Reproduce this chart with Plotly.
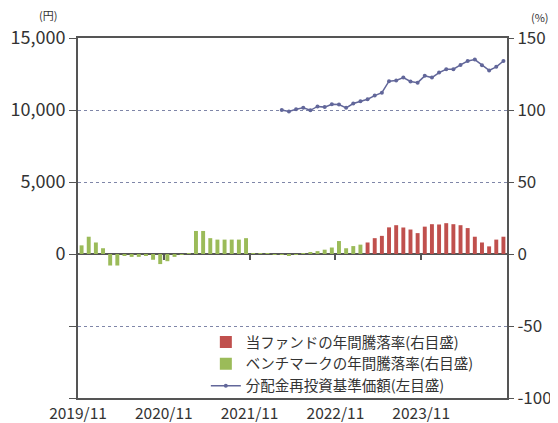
import plotly.graph_objects as go
import pandas as pd

# Monthly categories 2019/11 - 2024/10
months = [d.strftime("%Y/%m") for d in pd.date_range("2019-11-01", periods=60, freq="MS")]
tick_labels = ["2019/11", "2020/11", "2021/11", "2022/11", "2023/11"]

# Benchmark annual return (%), right axis (2019/11 - 2023/02)
benchmark_vals = [6, 12, 8, 4, -8, -8, -1, -2, -2, -1, -4, -7, -5, -2, -0.5, 0.5,
                  16, 16, 11, 10, 10, 10, 10, 11, 0.5, 0.3, 0.2, -0.5, -0.3, -1,
                  -0.5, 0.5, 0.8, 2, 3, 4.5, 9, 4, 5.5, 6.5]
benchmark = benchmark_vals + [None] * (60 - len(benchmark_vals))

# Fund annual return (%), right axis (2023/03 - 2024/10)
fund_vals = [8, 11, 12.6, 18.5, 20, 18.4, 17, 14.5, 19, 20.7, 20.5, 21.4, 20.7,
             20, 18, 12, 8, 5.3, 10, 12]
fund = [None] * (60 - len(fund_vals)) + fund_vals

# NAV with dividends reinvested (yen), left axis (2022/03 - 2024/10)
nav_vals = [10000, 9900, 10050, 10150, 9980, 10250, 10200, 10400, 10380, 10150,
            10450, 10600, 10750, 11000, 11200, 12000, 12050, 12250, 11980, 11900,
            12370, 12250, 12600, 12830, 12830, 13130, 13400, 13500, 13100, 12750,
            13000, 13400]
nav = [None] * (60 - len(nav_vals)) + nav_vals

pct_ticks = [-100, -50, 0, 50, 100, 150]
pct_ticktext = ["-100", "-50", "0", "50", "100", "150"]
yen_ticks = [-10000, -5000, 0, 5000, 10000, 15000]
yen_ticktext = ["", "", "0", "5,000", "10,000", "15,000"]

x = list(range(len(months)))
tick_pos = [months.index(t) - 0.5 for t in tick_labels]

FONT = "Noto Sans CJK JP"
AX = "#555555"
TXT = "#333333"

fig = go.Figure()
fig.add_trace(go.Bar(x=x, y=fund, name="当ファンドの年間騰落率(右目盛)",
                     marker=dict(color="#c0504d", line=dict(width=0)), width=0.55,
                     xaxis="x", yaxis="y"))
fig.add_trace(go.Bar(x=x, y=benchmark, name="ベンチマークの年間騰落率(右目盛)",
                     marker=dict(color="#9bbb59", line=dict(width=0)), width=0.55,
                     xaxis="x", yaxis="y"))
fig.add_trace(go.Scatter(x=x, y=nav, name="分配金再投資基準価額(左目盛)",
                         mode="lines+markers",
                         line=dict(color="#62679a", width=1.5),
                         marker=dict(color="#62679a", size=4),
                         xaxis="x", yaxis="y2"))
fig.add_trace(go.Scatter(x=[None], y=[None], xaxis="x2", yaxis="y",
                         showlegend=False, hoverinfo="skip"))

fig.update_layout(
    width=550, height=415,
    margin=dict(l=70, r=51, t=30, b=25),
    paper_bgcolor="white", plot_bgcolor="white",
    font=dict(family=FONT, color=TXT, size=18),
    barmode="overlay",
    showlegend=True,
    legend=dict(x=0.298, y=0.2, xanchor="left", yanchor="top",
                bgcolor="rgba(0,0,0,0)", font=dict(size=14.5, color=TXT),
                itemwidth=30, tracegroupgap=0, traceorder="normal"),
    xaxis=dict(range=[-0.5, 59.5], tickmode="array", tickvals=tick_pos,
               ticktext=tick_labels, ticks="", showgrid=False, zeroline=False,
               showline=True, mirror=True, linecolor=AX, linewidth=2,
               tickfont=dict(size=15.5), automargin=False),
    xaxis2=dict(overlaying="x", anchor="free", position=0.4,
                range=[-0.5, 59.5], tickmode="array", tickvals=tick_pos[1:],
                ticks="outside", ticklen=5, tickcolor=AX, tickwidth=1.5,
                showticklabels=False, showline=False, showgrid=False,
                zeroline=False, automargin=False),
    yaxis=dict(side="right", range=[-100, 150], tickmode="array",
               tickvals=pct_ticks, ticktext=pct_ticktext,
               ticks="outside", ticklen=5, tickcolor=AX,
               showgrid=True, griddash="dot", gridcolor="#7f86a8", gridwidth=1,
               zeroline=True, zerolinecolor=AX, zerolinewidth=1.5,
               showline=True, mirror=True, linecolor=AX, linewidth=2,
               tickfont=dict(size=17), automargin=False),
    yaxis2=dict(overlaying="y", side="left", range=[-10000, 15000],
                tickmode="array", tickvals=yen_ticks, ticktext=yen_ticktext,
                ticks="outside", ticklen=8, tickcolor=AX, showgrid=False,
                zeroline=False, showline=False, tickfont=dict(size=18),
                automargin=False),
    annotations=[
        dict(text="(円)", xref="paper", yref="paper", x=-0.07, y=1.0,
             xanchor="center", yanchor="middle", yshift=23, showarrow=False,
             font=dict(size=11, color=TXT)),
        dict(text="(%)", xref="paper", yref="paper", x=1.077, y=1.0,
             xanchor="center", yanchor="middle", yshift=21, showarrow=False,
             font=dict(size=11, color=TXT)),
    ],
)

fig.write_html("out.html")
